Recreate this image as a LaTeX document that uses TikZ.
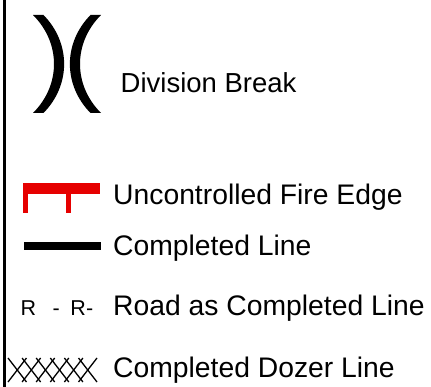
\documentclass[tikz,border=0pt]{standalone}
\usepackage{fontspec}
\setmainfont{Liberation Sans}
\definecolor{firered}{RGB}{230,0,0}
\tikzset{
  lbl/.style={anchor=base west, inner sep=0pt, font=\fontsize{28.3}{33}\selectfont},
  lblsmall/.style={anchor=base west, inner sep=0pt, font=\fontsize{27.5}{32}\selectfont},
  roadtxt/.style={anchor=base west, inner sep=0pt, font=\fontsize{21.5}{25}\selectfont},
  hatch/.style={line width=1.3pt, black},
}
\begin{document}
\begin{tikzpicture}[x=1pt,y=-1pt]
\useasboundingbox (0,0) rectangle (431,387);
% left border line
\fill[black] (3,0) rectangle (6,387);
% division break brackets
\fill[black] (33,15) -- (43.5,15) .. controls (71,43) and (71,85) .. (43.5,113) -- (33,113) .. controls (61,85) and (61,43) .. (33,15) -- cycle;
\fill[black] (101,15) -- (90.5,15) .. controls (63,43) and (63,85) .. (90.5,113) -- (101,113) .. controls (73,85) and (73,43) .. (101,15) -- cycle;
\node[lblsmall] (div) at (120.5,93) {Division Break};
% uncontrolled fire edge
\fill[firered] (23.3,183.5) rectangle (100,194);
\fill[firered] (23.3,190) rectangle (27.7,212.7);
\fill[firered] (66,190) rectangle (70.7,212.7);
\node[lbl] (ufe) at (113,205) {Uncontrolled Fire Edge};
% completed line
\fill[black] (24,242) rectangle (100.7,250.5);
\node[lbl] (cl) at (113,256) {Completed Line};
% road
\node[roadtxt] (road) at (20.5,315.5) {R\hspace{16.5pt}-\hspace{10.5pt}R\hspace{0.3pt}-};
\node[lbl] (rcl) at (113,316) {Road as Completed Line};
% dozer line
\foreach \i in {0,...,5}{
  \draw[hatch] ({8+14.1*\i},358) -- ({8+14.1*\i+18.5},382);
  \draw[hatch] ({8+14.1*\i},382) -- ({8+14.1*\i+18.5},358);
}
\node[lbl] (cdl) at (113,377) {Completed Dozer Line};
\end{tikzpicture}
\end{document}
